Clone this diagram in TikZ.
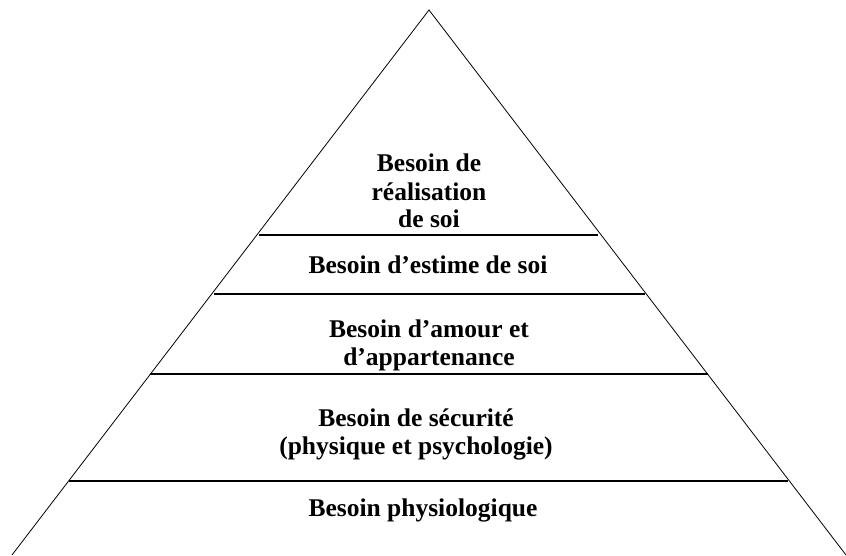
\documentclass[tikz,border=0pt]{standalone}
\usepackage{fontspec}
\setmainfont{Liberation Serif}
\begin{document}
\begin{tikzpicture}[x=1pt,y=-1pt,
  side/.style={line width=0.8pt},
  tier/.style={line width=1.7pt},
  label/.style={font=\fontsize{25.5}{28}\selectfont\bfseries, align=center, inner sep=0pt, anchor=base}]
\useasboundingbox (0,0) rectangle (846,556);
% pyramid outline
\coordinate (apex) at (429,10);
\coordinate (bl) at (12,555);
\coordinate (br) at (846,555);
\draw[side] (bl) -- (apex) -- (br);
% tier separators
\coordinate (a1) at (259,235); \coordinate (b1) at (598,235);
\coordinate (a2) at (214,294); \coordinate (b2) at (645,294);
\coordinate (a3) at (150,374); \coordinate (b3) at (708,374);
\coordinate (a4) at (69,481);  \coordinate (b4) at (788,481);
\draw[tier] (a1) -- (b1);
\draw[tier] (a2) -- (b2);
\draw[tier] (a3) -- (b3);
\draw[tier] (a4) -- (b4);
% labels (base = baseline of the last line)
\node[label] (t1) at (429,228) {Besoin de\\réalisation\\de soi};
\node[label] (t2) at (428,273) {Besoin d’estime de soi};
\node[label] (t3) at (429,365) {Besoin d’amour et\\d’appartenance};
\node[label] (t4) at (416,454) {Besoin de sécurité\\(physique et psychologie)};
\node[label] (t5) at (423,516) {Besoin physiologique};
\end{tikzpicture}
\end{document}
